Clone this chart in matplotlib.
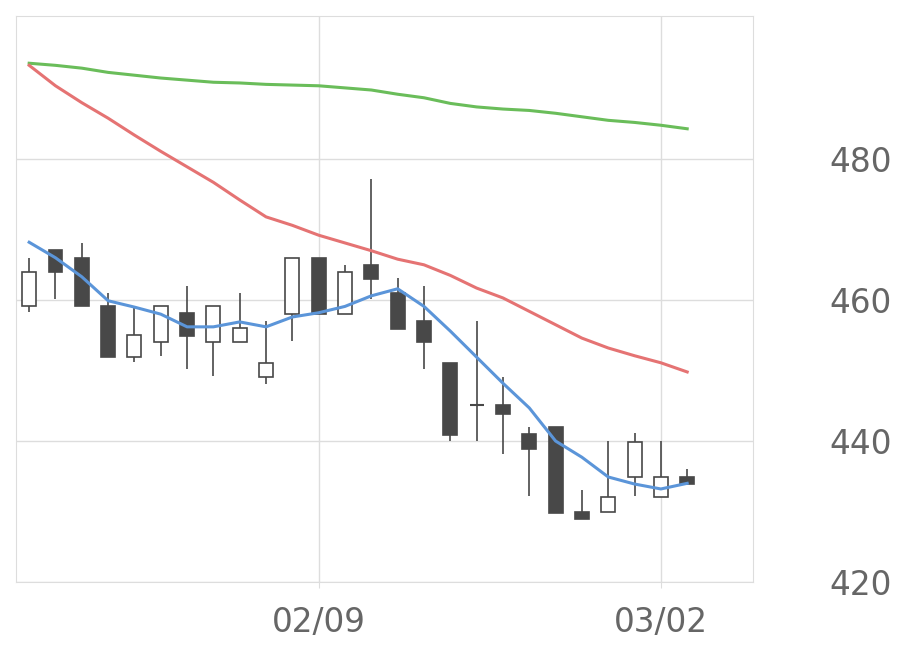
import numpy as np
import matplotlib.pyplot as plt
from matplotlib.patches import Rectangle

opens = [459.1, 467.1, 466.0, 459.1, 451.9, 454.0, 458.2, 454.0, 454.0, 449.1, 458.0, 466.0, 458.0,
         465.0, 461.0, 457.0, 451.1, 445.1, 445.1, 441.0, 442.0, 429.9, 429.9, 434.9, 432.0, 434.9]
highs = [466.0, 467.1, 468.1, 461.0, 458.9, 459.1, 462.0, 459.1, 461.0, 457.0, 466.0, 466.0, 465.0,
         477.2, 463.1, 462.0, 451.1, 457.0, 449.1, 442.0, 442.0, 433.0, 440.0, 441.1, 440.0, 436.0]
lows = [458.3, 460.1, 459.1, 451.9, 451.2, 452.1, 450.2, 449.2, 454.0, 448.1, 454.2, 458.0, 458.0,
        460.1, 455.9, 450.2, 440.0, 440.0, 438.2, 432.2, 429.8, 428.9, 429.9, 432.2, 432.0, 433.9]
closes = [464.0, 464.0, 459.1, 451.9, 455.0, 459.1, 454.9, 459.1, 456.0, 451.1, 466.0, 458.0, 464.0,
          463.0, 455.9, 454.0, 440.9, 445.1, 443.8, 438.9, 429.8, 428.9, 432.0, 439.9, 434.9, 433.9]
ma_short = [468.2, 466.0, 463.3, 459.9, 459.0, 458.0, 456.2, 456.2, 456.9, 456.2, 457.6, 458.2, 459.1,
            460.6, 461.6, 459.1, 455.6, 451.9, 448.2, 444.7, 440.0, 437.7, 434.9, 433.9, 433.2, 434.0]
ma_mid = [493.3, 490.4, 488.0, 485.8, 483.4, 481.1, 478.9, 476.7, 474.2, 471.8, 470.6, 469.2, 468.1,
          467.0, 465.8, 465.0, 463.5, 461.7, 460.3, 458.4, 456.5, 454.6, 453.2, 452.1, 451.1, 449.8]
ma_long = [493.6, 493.3, 492.9, 492.3, 491.9, 491.5, 491.2, 490.9, 490.8, 490.6, 490.5, 490.4, 490.1,
           489.8, 489.2, 488.7, 487.9, 487.4, 487.1, 486.9, 486.5, 486.0, 485.5, 485.2, 484.8, 484.3]
xtick_pos = [11, 24]
xtick_labels = ['02/09', '03/02']
yticks = [420, 440, 460, 480]

fig = plt.figure(figsize=(9.2, 6.69), dpi=100)
ax = fig.add_axes([16 / 920, 87 / 669, 737 / 920, 566 / 669])
x = np.arange(len(opens))
w = 0.53
dark = '#484848'
for i in x:
    o, h, l, c = opens[i], highs[i], lows[i], closes[i]
    ax.vlines(i, l, h, color=dark, lw=1.2, zorder=2)
    lo, hi = min(o, c), max(o, c)
    if hi - lo < 0.3:
        ax.hlines(o, i - w / 2, i + w / 2, color=dark, lw=1.5, zorder=3)
        continue
    face = 'white' if c > o else dark
    ax.add_patch(Rectangle((i - w / 2, lo), w, hi - lo, facecolor=face,
                           edgecolor=dark, lw=1.2, zorder=3))

ax.plot(x, ma_long, color='#6abd5a', lw=2.2, zorder=4)
ax.plot(x, ma_mid, color='#e57373', lw=2.2, zorder=4)
ax.plot(x, ma_short, color='#5b95d9', lw=2.2, zorder=4)

ax.set_xlim(-0.5, 27.5)
ax.set_ylim(420, 500.3)
ax.set_xticks(xtick_pos, xtick_labels)
ax.set_yticks(yticks)
ax.yaxis.tick_right()
ax.grid(color='#dddddd', lw=1)
ax.set_axisbelow(True)
for s in ax.spines.values():
    s.set_color('#dddddd')
ax.tick_params(axis='y', length=0, pad=55, labelsize=23.5, labelcolor='#666666')
ax.tick_params(axis='x', length=4, color='#dddddd', pad=13, labelsize=23.5, labelcolor='#666666')
for lab in ax.get_yticklabels():
    lab.set_horizontalalignment('left')

fig.savefig('out.png', dpi=100)
